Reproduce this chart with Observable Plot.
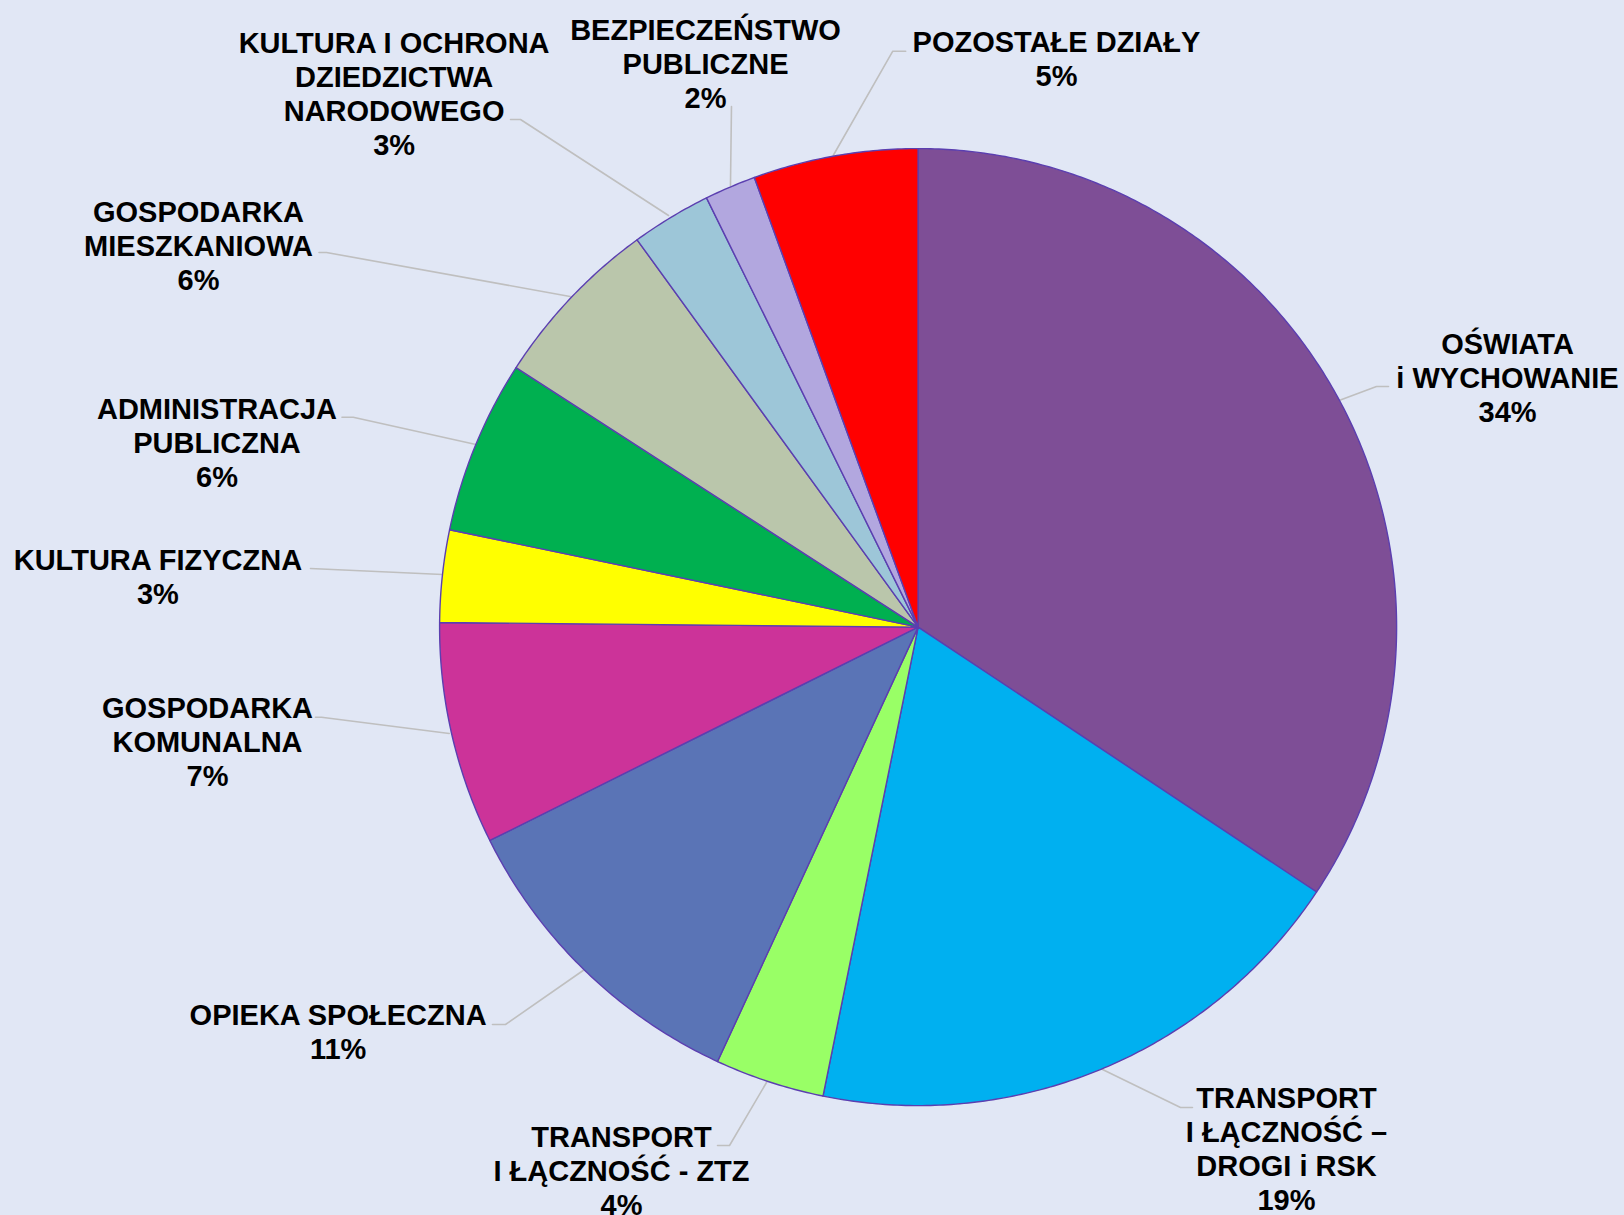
<!DOCTYPE html>
<html>
<head>
<meta charset="utf-8">
<script src="https://cdn.jsdelivr.net/npm/d3@7"></script>
<script src="https://cdn.jsdelivr.net/npm/@observablehq/plot@0.6"></script>
<style>
  html, body { margin: 0; padding: 0; background: #E1E7F5; }
  #chart { width: 1624px; height: 1215px; }
</style>
</head>
<body>
<div id="chart"></div>
<script>
// ---- DATA ----
const categories = [
  "OŚWIATA i WYCHOWANIE",
  "TRANSPORT I ŁĄCZNOŚĆ – DROGI i RSK",
  "TRANSPORT I ŁĄCZNOŚĆ - ZTZ",
  "OPIEKA SPOŁECZNA",
  "GOSPODARKA KOMUNALNA",
  "KULTURA FIZYCZNA",
  "ADMINISTRACJA PUBLICZNA",
  "GOSPODARKA MIESZKANIOWA",
  "KULTURA I OCHRONA DZIEDZICTWA NARODOWEGO",
  "BEZPIECZEŃSTWO PUBLICZNE",
  "POZOSTAŁE DZIAŁY"
];
// shares
const values = [34.34, 18.85, 3.70, 10.76, 7.51, 3.11, 5.86, 5.89, 2.70, 1.73, 5.56];
// percentages as printed on the labels
const percentLabels = ["34%", "19%", "4%", "11%", "7%", "3%", "6%", "6%", "3%", "2%", "5%"];
const labelLines = [
  "OŚWIATA\ni WYCHOWANIE",
  "TRANSPORT\nI ŁĄCZNOŚĆ –\nDROGI i RSK",
  "TRANSPORT\nI ŁĄCZNOŚĆ - ZTZ",
  "OPIEKA SPOŁECZNA",
  "GOSPODARKA\nKOMUNALNA",
  "KULTURA FIZYCZNA",
  "ADMINISTRACJA\nPUBLICZNA",
  "GOSPODARKA\nMIESZKANIOWA",
  "KULTURA I OCHRONA\nDZIEDZICTWA\nNARODOWEGO",
  "BEZPIECZEŃSTWO\nPUBLICZNE",
  "POZOSTAŁE DZIAŁY"
];
const colors = ["#7E4E96", "#00B0F0", "#99FF66", "#5A74B6", "#CC3399", "#FFFF00",
                "#00B050", "#BAC6AB", "#9DC6D8", "#B2A7DF", "#FF0000"];

// ---- LAYOUT (in pie-radius units, centre = 0,0) ----
const labelPos = [
  [1.2318, 0.5229], [0.7699, -1.0897], [-0.6199, -1.1340], [-1.2121, -0.8447],
  [-1.4851, -0.2380], [-1.5887, 0.1068], [-1.4652, 0.3868], [-1.5039, 0.7992],
  [-1.0951, 1.1168], [-0.4443, 1.1795], [0.2892, 1.1883]
];
const leaders = [
  [[0.8811, 0.4740], [0.958, 0.5028], [0.9831, 0.5028]],
  [[0.3812, -0.9225], [0.5484, -1.004], [0.5734, -1.004]],
  [[-0.3168, -0.9517], [-0.3941, -1.0834], [-0.4192, -1.0834]],
  [[-0.7001, -0.7177], [-0.8623, -0.8305], [-0.8895, -0.8305]],
  [[-0.9799, -0.2224], [-1.2468, -0.1883], [-1.2593, -0.1883]],
  [[-0.9939, 0.1099], [-1.2698, 0.1225]],
  [[-0.9241, 0.3816], [-1.1806, 0.4387], [-1.2040, 0.4387]],
  [[-0.7273, 0.6909], [-1.2364, 0.7829], [-1.2520, 0.7829]],
  [[-0.5216, 0.8602], [-0.8309, 1.0608], [-0.8518, 1.0608]],
  [[-0.3921, 0.9229], [-0.3900, 1.0880]],
  [[-0.1774, 0.9856], [-0.0529, 1.2035], [-0.0259, 1.2035]]
];

// ---- BUILD SLICES ----
const pieData = categories.map((c, i) => ({category: c, value: values[i]}));
const arcs = d3.pie().sort(null).value(d => d.value).startAngle(0).endAngle(2 * Math.PI)(pieData);
const slicePoints = [];
arcs.forEach(a => {
  const c = a.data.category;
  slicePoints.push({category: c, x: 0, y: 0});
  const n = Math.max(4, Math.ceil((a.endAngle - a.startAngle) / (Math.PI / 360)));
  for (let k = 0; k <= n; k++) {
    const t = a.startAngle + (a.endAngle - a.startAngle) * k / n;
    slicePoints.push({category: c, x: Math.sin(t), y: Math.cos(t)});
  }
  slicePoints.push({category: c, x: 0, y: 0});
});

const labels = categories.map((c, i) => ({
  category: c,
  text: labelLines[i] + "\n" + percentLabels[i],
  x: labelPos[i][0],
  y: labelPos[i][1]
}));
const leaderPoints = leaders.flatMap((pts, i) => pts.map(p => ({id: i, x: p[0], y: p[1]})));

const W = 1624, H = 1215, R = 478.5, CX = 917.6, CY = 626.6;

const chart = Plot.plot({
  width: W,
  height: H,
  margin: 0,
  x: {domain: [-CX / R, (W - CX) / R], axis: null},
  y: {domain: [-(H - CY) / R, CY / R], axis: null},
  color: {domain: categories, range: colors},
  style: {background: "#E1E7F5", overflow: "visible"},
  marks: [
    Plot.line(leaderPoints, {x: "x", y: "y", z: "id", stroke: "#BFBFBF", strokeWidth: 1.6}),
    Plot.line(slicePoints, {
      x: "x", y: "y", z: "category", fill: "category",
      stroke: "#5B3FB0", strokeWidth: 1.4, strokeLinejoin: "round", curve: "linear"
    }),
    Plot.text(labels, {
      x: "x", y: "y", text: "text",
      fill: "#000000", fontSize: 29, fontWeight: "bold",
      fontFamily: "'Liberation Sans', Arial, sans-serif",
      lineHeight: 34 / 29, lineAnchor: "middle", textAnchor: "middle"
    })
  ]
});
document.getElementById("chart").appendChild(chart);
</script>
</body>
</html>
